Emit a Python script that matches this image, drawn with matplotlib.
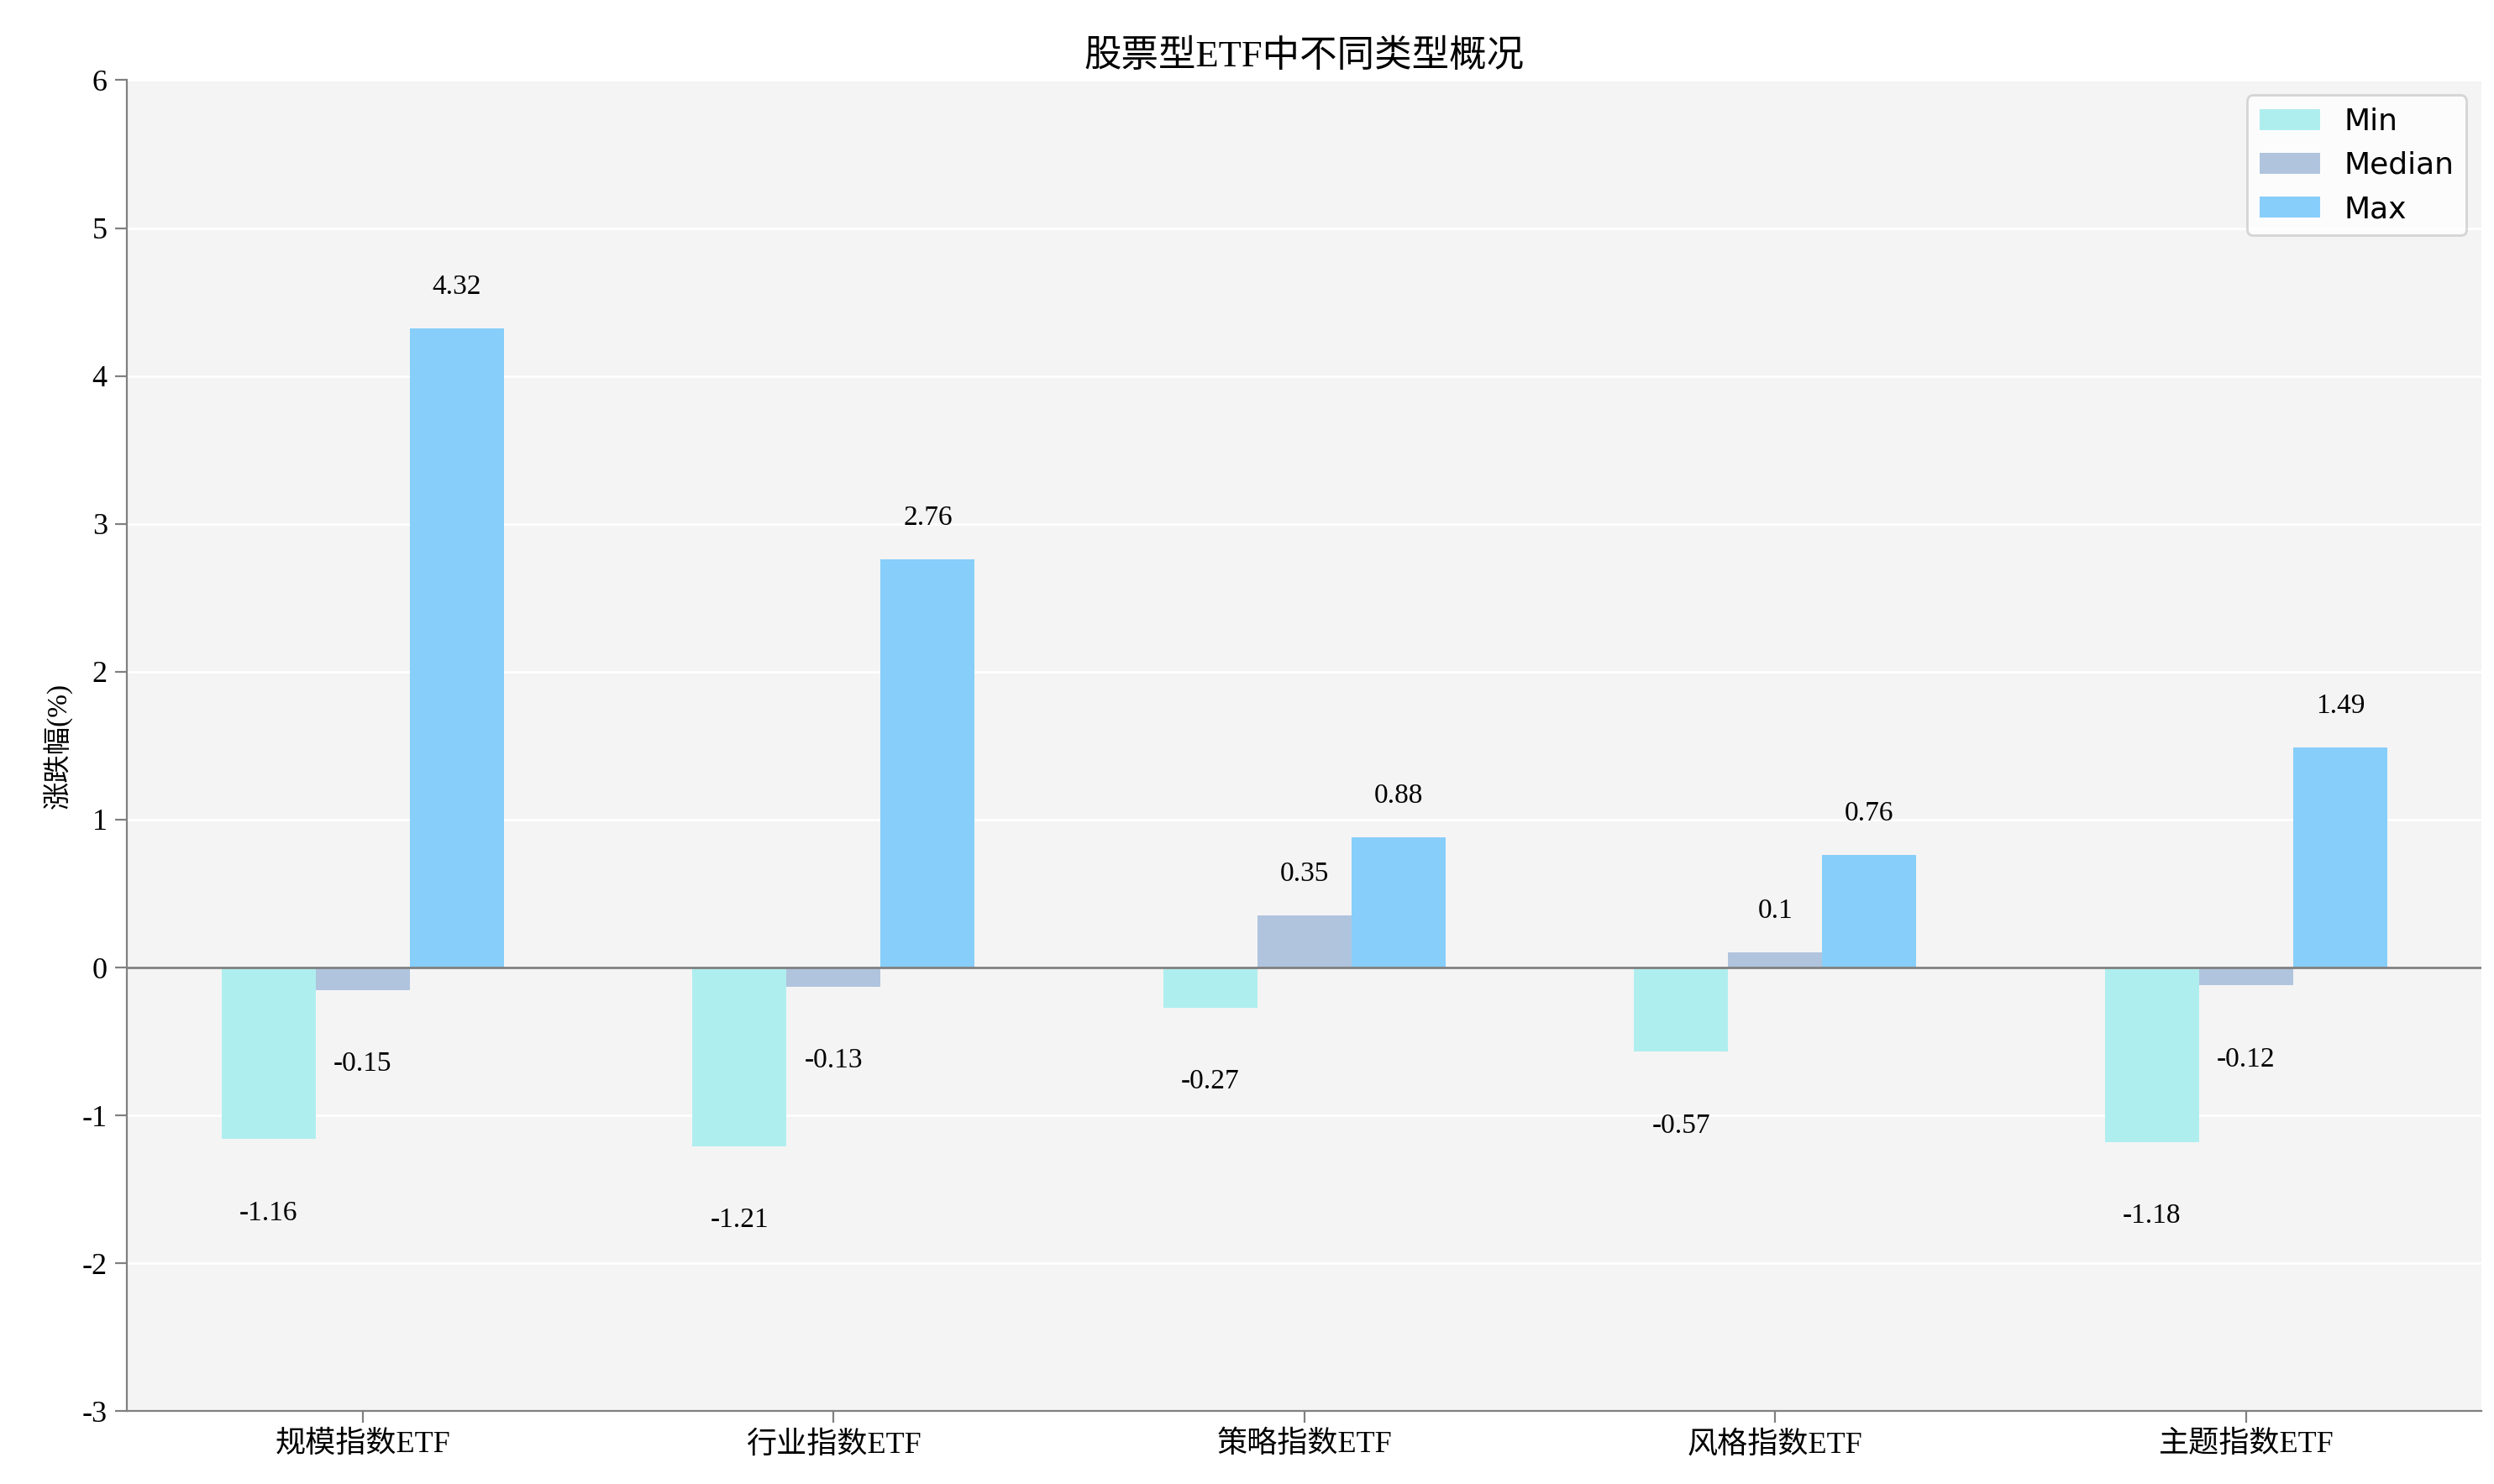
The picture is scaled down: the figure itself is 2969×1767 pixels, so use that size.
import matplotlib.pyplot as plt
import numpy as np

categories = ["规模指数ETF", "行业指数ETF", "策略指数ETF", "风格指数ETF", "主题指数ETF"]
min_vals = [-1.16, -1.21, -0.27, -0.57, -1.18]
median_vals = [-0.15, -0.13, 0.35, 0.1, -0.12]
max_vals = [4.32, 2.76, 0.88, 0.76, 1.49]
series_names = ["Min", "Median", "Max"]

cjk = "Noto Sans CJK SC"
num_font = "Liberation Serif"

fig = plt.figure(figsize=(14.845, 8.835), dpi=200)
ax = fig.add_axes([0.051, 0.049, 0.944, 0.897])
ax.set_facecolor("#f4f4f4")
ax.grid(axis="y", color="white", linewidth=1)
ax.set_axisbelow(True)

x = np.arange(len(categories))
w = 0.2
colors = ["#afeeee", "#b0c4de", "#87cefa"]
for i, (vals, name) in enumerate(zip([min_vals, median_vals, max_vals], series_names)):
    pos = x + (i - 1) * w
    ax.bar(pos, vals, w, color=colors[i], label=name)
    for p, v in zip(pos, vals):
        y = v + 0.28 if v >= 0 else v - 0.5
        ax.text(p, y, f"{v:g}", ha="center", va="center", fontsize=12, family=num_font)

ax.axhline(0, color="gray", linewidth=1)
ax.set_xlim(-0.5, 4.5)
ax.set_ylim(-3, 6)
ax.set_yticks(range(-3, 7))
ax.set_yticklabels([str(t) for t in range(-3, 7)], family=num_font, fontsize=13)
ax.set_xticks(x)
ax.set_xticklabels(categories, family=[num_font, cjk], fontsize=13)
for s in ["top", "right"]:
    ax.spines[s].set_visible(False)
for s in ["left", "bottom"]:
    ax.spines[s].set_color("gray")
ax.tick_params(colors="black", length=5)
ax.tick_params(axis="both", color="gray")
ax.set_ylabel("涨跌幅(%)", family=[num_font, cjk], fontsize=12)
ax.set_title("股票型ETF中不同类型概况", family=[num_font, cjk], fontsize=16)
ax.legend(loc="upper right", fontsize=13, frameon=True, facecolor="white", edgecolor="#cccccc")

fig.savefig("out.png", dpi=200)
